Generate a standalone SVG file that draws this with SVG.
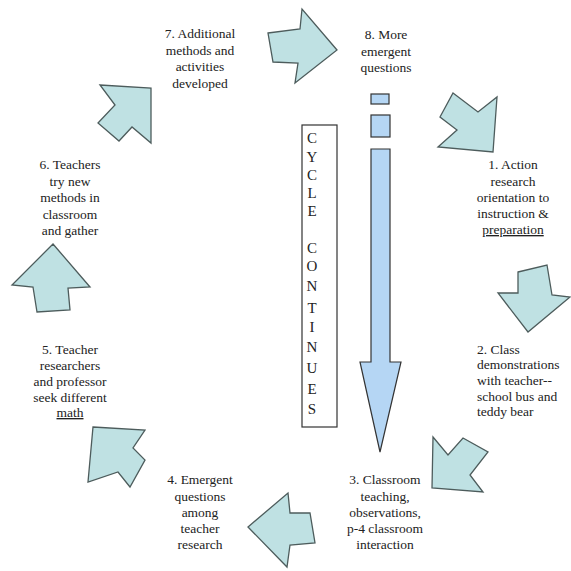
<svg xmlns="http://www.w3.org/2000/svg" width="571" height="571" viewBox="0 0 571 571">
<style>
.arr{fill:#bfe1e3;stroke:#4d5c5c;stroke-width:1.3;stroke-linejoin:miter}
.t{font-family:"Liberation Serif","Times New Roman",serif;font-size:13.5px;fill:#222}
.c{text-anchor:middle}
.cl{font-family:"Liberation Serif","Times New Roman",serif;font-size:15px;fill:#222;text-anchor:middle}
.blue{fill:#b5d6f4;stroke:#333;stroke-width:1.2}
</style>
<rect width="571" height="571" fill="#fff"/>
<g id="connectors">
<polygon class="arr" points="268,33 300,29 302,9 337,50 295,83 298,63 273,62"/>
<polygon class="arr" points="453,93 478,112 497,97 493,152 438,147 457,130 440,117"/>
<polygon class="arr" points="518,272 547,265 552,295 570,297 528,332 498,293 518,293"/>
<polygon class="arr" points="433,437 448,455 463,438 488,452 470,475 483,492 432,488"/>
<polygon class="arr" points="248,527 288,493 290,513 310,513 315,543 290,545 287,567"/>
<polygon class="arr" points="93,427 145,430 133,448 145,460 130,487 118,472 88,482"/>
<polygon class="arr" points="53,244 90,287 68,288 70,310 37,312 33,287 12,285"/>
<polygon class="arr" points="100,85 151,88 151,143 132,127 119,141 98,123 115,105"/>
</g>
<g id="center-arrow">
<rect class="blue" x="371" y="94" width="18" height="10"/>
<rect class="blue" x="371" y="115" width="19" height="22"/>
<polygon class="blue" points="371,149 390,149 390,362 401,362 380,452 360,362 371,362"/>
</g>
<g id="cycle-box">
<rect x="302" y="125" width="35" height="302" fill="#fff" stroke="#333" stroke-width="1.2"/>
<text class="cl" x="312" y="143">C</text>
<text class="cl" x="312" y="162">Y</text>
<text class="cl" x="312" y="180">C</text>
<text class="cl" x="312" y="198">L</text>
<text class="cl" x="312" y="216">E</text>
<text class="cl" x="312" y="253">C</text>
<text class="cl" x="312" y="271">O</text>
<text class="cl" x="312" y="291">N</text>
<text class="cl" x="312" y="313">T</text>
<text class="cl" x="312" y="332">I</text>
<text class="cl" x="312" y="352">N</text>
<text class="cl" x="312" y="373">U</text>
<text class="cl" x="312" y="394">E</text>
<text class="cl" x="312" y="414">S</text>
</g>
<g id="node1">
<text class="t c" x="513" y="169">1. Action</text>
<text class="t c" x="513" y="186">research</text>
<text class="t c" x="513" y="202">orientation to</text>
<text class="t c" x="513" y="218">instruction &amp;</text>
<text class="t c" x="513" y="234" text-decoration="underline">preparation</text>
</g>
<g id="node2">
<text class="t" x="477" y="354">2. Class</text>
<text class="t" x="477" y="369">demonstrations</text>
<text class="t" x="477" y="385">with teacher--</text>
<text class="t" x="477" y="401">school bus and</text>
<text class="t" x="477" y="416">teddy bear</text>
</g>
<g id="node3">
<text class="t c" x="385" y="484">3. Classroom</text>
<text class="t c" x="385" y="501">teaching,</text>
<text class="t c" x="385" y="517">observations,</text>
<text class="t c" x="385" y="533">p-4 classroom</text>
<text class="t c" x="385" y="549">interaction</text>
</g>
<g id="node4">
<text class="t c" x="200" y="484">4. Emergent</text>
<text class="t c" x="200" y="501">questions</text>
<text class="t c" x="200" y="517">among</text>
<text class="t c" x="200" y="533">teacher</text>
<text class="t c" x="200" y="549">research</text>
</g>
<g id="node5">
<text class="t c" x="70" y="354">5. Teacher</text>
<text class="t c" x="70" y="370">researchers</text>
<text class="t c" x="70" y="386">and professor</text>
<text class="t c" x="70" y="402">seek different</text>
<text class="t c" x="70" y="417" text-decoration="underline">math</text>
</g>
<g id="node6">
<text class="t c" x="70" y="169">6. Teachers</text>
<text class="t c" x="70" y="186">try new</text>
<text class="t c" x="70" y="202">methods in</text>
<text class="t c" x="70" y="219">classroom</text>
<text class="t c" x="70" y="235">and gather</text>
</g>
<g id="node7">
<text class="t c" x="200" y="38">7. Additional</text>
<text class="t c" x="200" y="55">methods and</text>
<text class="t c" x="200" y="71">activities</text>
<text class="t c" x="200" y="88">developed</text>
</g>
<g id="node8">
<text class="t c" x="386" y="39">8. More</text>
<text class="t c" x="386" y="56">emergent</text>
<text class="t c" x="386" y="72">questions</text>
</g>
</svg>
